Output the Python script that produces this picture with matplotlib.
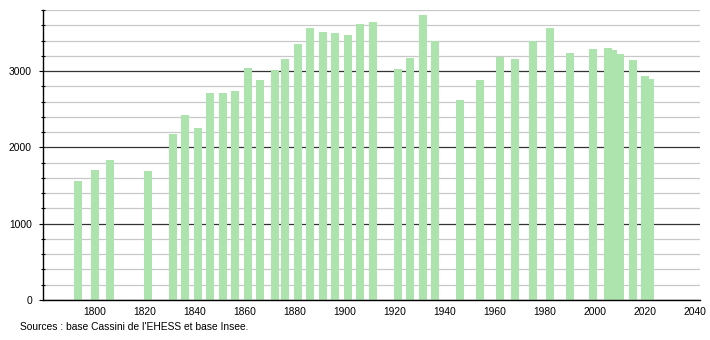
import matplotlib
matplotlib.use("Agg")
import matplotlib.pyplot as plt
from matplotlib.ticker import MultipleLocator

# ------------- data -------------
years = [1793, 1800, 1806, 1821, 1831, 1836, 1841, 1846, 1851, 1856,
         1861, 1866, 1872, 1876, 1881, 1886, 1891, 1896, 1901, 1906,
         1911, 1921, 1926, 1931, 1936, 1946, 1954, 1962, 1968, 1975,
         1982, 1990, 1999, 2005, 2007, 2010, 2015, 2020, 2022]
population = [1553, 1697, 1828, 1684, 2169, 2422, 2248, 2706, 2706, 2737,
              3043, 2881, 3008, 3152, 3360, 3558, 3506, 3493, 3471, 3611,
              3646, 3021, 3165, 3737, 3392, 2619, 2881, 3178, 3161, 3392,
              3567, 3231, 3292, 3296, 3280, 3218, 3139, 2933, 2899]
xtick_years = list(range(1800, 2041, 20))
source_text = "Sources : base Cassini de l'EHESS et base Insee."
# ---------------------------------

BAR_COLOR = "#ade3ad"

plt.rcParams["font.family"] = ["Liberation Sans", "DejaVu Sans"]
plt.rcParams["font.size"] = 7.4

fig = plt.figure(figsize=(7.1, 3.4), dpi=100)
ax = fig.add_axes([43 / 710, 40 / 340, 657 / 710, 290 / 340])

ax.bar(years, population, width=3.2, color=BAR_COLOR, linewidth=0, zorder=3)

ax.set_xlim(1779.2, 2042)
ax.set_ylim(0, 3800)

ax.set_xticks(xtick_years)
ax.tick_params(axis="x", length=0, pad=5, labelsize=7.4)

ax.yaxis.set_major_locator(MultipleLocator(1000))
ax.yaxis.set_minor_locator(MultipleLocator(200))
ax.tick_params(axis="y", which="major", direction="out", length=3, width=0.8, pad=5, labelsize=7.4)
ax.tick_params(axis="y", which="minor", direction="inout", length=2.5, width=0.8)

ax.grid(axis="y", which="major", color="#333333", linewidth=0.9, zorder=1)
ax.grid(axis="y", which="minor", color="#c8c8c8", linewidth=0.9, zorder=1)
ax.set_axisbelow(True)

for side in ("top", "right"):
    ax.spines[side].set_visible(False)
for side in ("left", "bottom"):
    ax.spines[side].set_linewidth(1.0)
    ax.spines[side].set_color("black")
    ax.spines[side].set_zorder(4)

fig.text(20 / 710, 1 - 327 / 340, source_text, fontsize=7.4, va="center", ha="left")

fig.savefig("out.png", dpi=100)
